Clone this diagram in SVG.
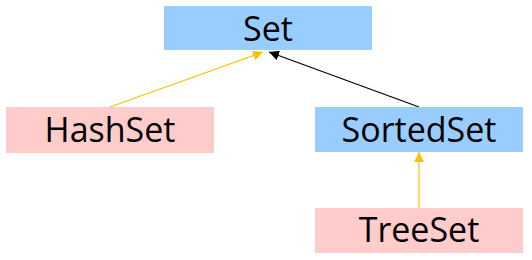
<svg xmlns="http://www.w3.org/2000/svg" width="532" height="260" viewBox="0 0 532 260">
<style>
.blue{fill:#99CCFF}
.pink{fill:#FFCCCC}
text{font-family:"Open Sans","Noto Sans","DejaVu Sans",sans-serif;font-size:34px;fill:#000;text-anchor:middle}
.y{stroke:#FFC000;stroke-width:1.2;fill:none}
.k{stroke:#000;stroke-width:1.2;fill:none}
</style>
<defs>
<marker id="ay" viewBox="0 0 10 10" refX="10" refY="5" markerWidth="10" markerHeight="10" markerUnits="userSpaceOnUse" orient="auto"><path d="M0,0L10,5L0,10z" fill="#FFC000"/></marker>
<marker id="ak" viewBox="0 0 10 10" refX="10" refY="5" markerWidth="10" markerHeight="10" markerUnits="userSpaceOnUse" orient="auto"><path d="M0,0L10,5L0,10z" fill="#000"/></marker>
</defs>
<rect width="532" height="260" fill="#fff"/>
<g id="connectors">
<line class="y" x1="110" y1="107" x2="263" y2="52" marker-end="url(#ay)"/>
<line class="k" x1="419" y1="107" x2="269" y2="52" marker-end="url(#ak)"/>
<line class="y" x1="419" y1="208" x2="419" y2="152" marker-end="url(#ay)"/>
</g>
<g id="set"><rect class="blue" x="164" y="6" width="208" height="44"/><text x="268" y="41">Set</text></g>
<g id="hashset"><rect class="pink" x="6" y="107" width="208" height="46"/><text x="110" y="142">HashSet</text></g>
<g id="sortedset"><rect class="blue" x="315" y="107" width="208" height="45"/><text x="419" y="142">SortedSet</text></g>
<g id="treeset"><rect class="pink" x="315" y="208" width="208" height="45"/><text x="419" y="242">TreeSet</text></g>
</svg>
